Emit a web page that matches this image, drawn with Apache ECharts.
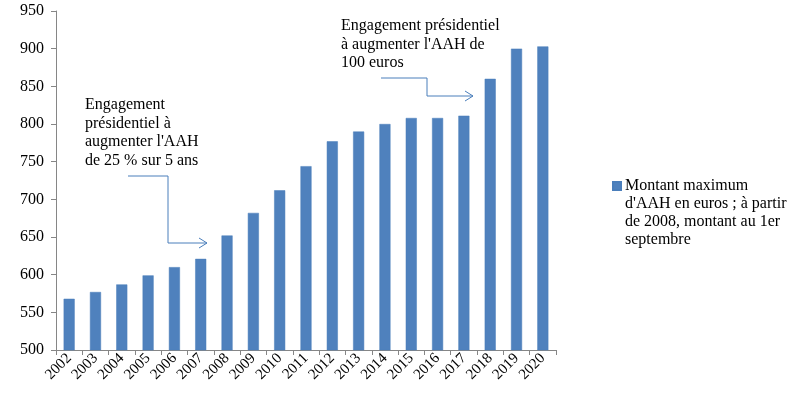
<!DOCTYPE html>
<html>
<head>
<meta charset="utf-8">
<script src="https://cdn.jsdelivr.net/npm/echarts@6/dist/echarts.min.js"></script>
<style>html,body{margin:0;padding:0;background:#fff}#c{width:802px;height:395px}</style>
</head>
<body>
<div id="c"></div>
<script>
const years = ['2002','2003','2004','2005','2006','2007','2008','2009','2010','2011','2012','2013','2014','2015','2016','2017','2018','2019','2020'];
const montant = [568, 577, 587, 599, 610, 621, 652, 682, 712, 744, 777, 790, 800, 808, 808, 811, 860, 900, 903];
const yTicks = [500, 550, 600, 650, 700, 750, 800, 850, 900, 950];
const seriesName = 'Montant maximum';
const legendLines = ["Montant maximum", "d'AAH en euros ; à partir", "de 2008, montant au 1er", "septembre"];
const note1 = ["Engagement", "présidentiel à", "augmenter l'AAH", "de 25 % sur 5 ans"];
const note2 = ["Engagement présidentiel", "à augmenter l'AAH de", "100 euros"];

const FONT = 'Liberation Serif';
const chart = echarts.init(document.getElementById('c'));
const arrowColor = '#4a7ebb';
function arrow(points) {
  const last = points[points.length - 1];
  return [
    { type: 'polyline', shape: { points: points }, style: { stroke: arrowColor, lineWidth: 1, fill: null } },
    { type: 'polyline', shape: { points: [[last[0] - 8, last[1] - 5], last, [last[0] - 8, last[1] + 5]] }, style: { stroke: arrowColor, lineWidth: 1, fill: null } }
  ];
}
chart.setOption({
  backgroundColor: '#fff',
  animation: false,
  grid: { left: 56, right: 246, top: 11, bottom: 45 },
  xAxis: {
    type: 'category',
    data: years,
    axisLine: { lineStyle: { color: '#868686' } },
    axisTick: { show: true, length: 5, lineStyle: { color: '#868686' } },
    axisLabel: { rotate: 45, fontFamily: FONT, fontSize: 15, color: '#000', margin: 6, interval: 0 }
  },
  yAxis: {
    type: 'value',
    min: yTicks[0], max: yTicks[yTicks.length - 1], interval: 50,
    axisLine: { show: true, lineStyle: { color: '#868686' } },
    axisTick: { show: true, length: 5, lineStyle: { color: '#868686' } },
    splitLine: { show: false },
    axisLabel: { fontFamily: FONT, fontSize: 16, color: '#000', margin: 12 }
  },
  legend: {
    data: [seriesName],
    left: 612, top: 178,
    itemWidth: 8, itemHeight: 8,
    itemGap: 0,
    padding: 0,
    icon: 'rect',
    formatter: () => legendLines[0],
    textStyle: { fontFamily: FONT, fontSize: 16, color: '#000', padding: [0, 0, 0, -1] }
  },
  series: [{
    name: seriesName,
    type: 'bar',
    data: montant,
    barWidth: '42%',
    itemStyle: { color: '#4f81bd', borderColor: '#4a7ebb', borderWidth: 0.5 }
  }],
  graphic: [
    { type: 'text', left: 625, top: 195, style: { text: legendLines.slice(1).join('\n'), font: '16px ' + FONT, fill: '#000', lineHeight: 18 } },
    { type: 'text', left: 85, top: 96, style: { text: note1.join('\n'), font: '16px ' + FONT, fill: '#000', lineHeight: 18.5 } },
    { type: 'text', left: 341, top: 17, style: { text: note2.join('\n'), font: '16px ' + FONT, fill: '#000', lineHeight: 18.5 } },
    ...arrow([[128, 176], [168, 176], [168, 243], [207, 243]]),
    ...arrow([[381, 78], [427, 78], [427, 96], [473, 96]])
  ]
});
</script>
</body>
</html>
